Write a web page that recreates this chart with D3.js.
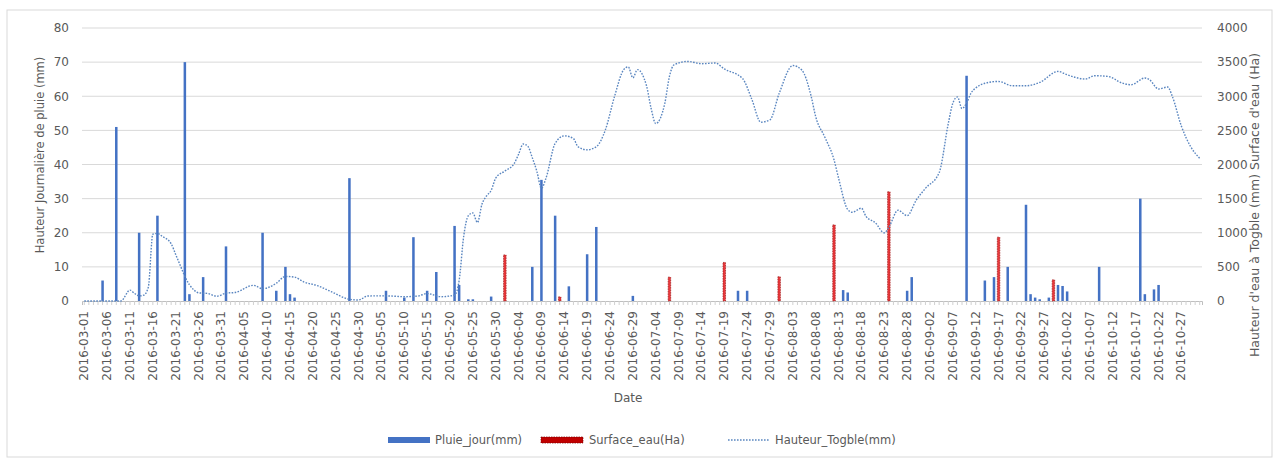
<!DOCTYPE html>
<html>
<head>
<meta charset="utf-8">
<script src="https://cdn.jsdelivr.net/npm/d3@7"></script>
<style>
  body { margin: 0; background: #fff; }
  text { font-family: "DejaVu Sans", sans-serif; fill: #595959; }
</style>
</head>
<body>
<svg id="chart" width="1279" height="459"></svg>
<script>
// daily rain (mm) - only days with rain
const rainDates = ["2016-03-05","2016-03-08","2016-03-13","2016-03-17","2016-03-23","2016-03-24","2016-03-27",
  "2016-04-01","2016-04-09","2016-04-12","2016-04-14","2016-04-15","2016-04-16","2016-04-28",
  "2016-05-06","2016-05-10","2016-05-12","2016-05-15","2016-05-17","2016-05-21","2016-05-22","2016-05-24","2016-05-25","2016-05-29",
  "2016-06-07","2016-06-09","2016-06-12","2016-06-15","2016-06-19","2016-06-21","2016-06-29",
  "2016-07-22","2016-07-24","2016-08-14","2016-08-15","2016-08-28","2016-08-29",
  "2016-09-10","2016-09-14","2016-09-16","2016-09-19","2016-09-23","2016-09-24","2016-09-25","2016-09-26","2016-09-28","2016-09-30",
  "2016-10-01","2016-10-02","2016-10-09","2016-10-18","2016-10-19","2016-10-21","2016-10-22"];
const rainValues = [6,51,20,25,70,2,7,
  16,20,3,10,2,1,36,
  3,1,18.7,3,8.5,22,4.7,0.5,0.5,1.3,
  10,35.5,25,4.3,13.7,21.7,1.5,
  3,3,3.2,2.5,3,7,
  66,6,7,10,28.2,2,1,0.5,1,4.7,
  4.4,2.8,10,30,2,3.4,4.7];

// water surface (Ha)
const surfDates = ["2016-06-01","2016-06-13","2016-07-07","2016-07-19","2016-07-31","2016-08-12","2016-08-24","2016-09-17","2016-09-29"];
const surfValues = [675,60,350,565,355,1115,1600,935,310];

// water height at Togble (mm)
const hauteurDates = ["2016-03-01","2016-03-09","2016-03-11","2016-03-12","2016-03-13","2016-03-14","2016-03-15","2016-03-16","2016-03-17","2016-03-18",
  "2016-03-20","2016-03-21","2016-03-22","2016-03-23","2016-03-25","2016-03-26","2016-03-28","2016-03-30",
  "2016-04-01","2016-04-03","2016-04-07","2016-04-09","2016-04-12","2016-04-14","2016-04-16","2016-04-18","2016-04-21","2016-04-24","2016-04-28","2016-04-30",
  "2016-05-02","2016-05-04","2016-05-07","2016-05-10","2016-05-13","2016-05-15","2016-05-18","2016-05-21","2016-05-22","2016-05-23","2016-05-24",
  "2016-05-25","2016-05-26","2016-05-27","2016-05-28","2016-05-29","2016-05-30",
  "2016-06-01","2016-06-03","2016-06-04","2016-06-05","2016-06-06","2016-06-07","2016-06-08","2016-06-09","2016-06-10","2016-06-12","2016-06-14",
  "2016-06-16","2016-06-17","2016-06-19","2016-06-21","2016-06-23","2016-06-25","2016-06-27","2016-06-28","2016-06-29","2016-06-30",
  "2016-07-02","2016-07-03","2016-07-04","2016-07-06","2016-07-07","2016-07-08","2016-07-11","2016-07-14","2016-07-17","2016-07-19","2016-07-23",
  "2016-07-25","2016-07-27","2016-07-29","2016-07-31",
  "2016-08-03","2016-08-05","2016-08-07","2016-08-08","2016-08-10","2016-08-12","2016-08-13","2016-08-15","2016-08-16","2016-08-18","2016-08-19",
  "2016-08-21","2016-08-23","2016-08-24","2016-08-26","2016-08-28","2016-08-30",
  "2016-09-01","2016-09-04","2016-09-06","2016-09-07","2016-09-08","2016-09-09","2016-09-10","2016-09-11","2016-09-12","2016-09-14","2016-09-17",
  "2016-09-20","2016-09-23","2016-09-26","2016-09-30",
  "2016-10-02","2016-10-06","2016-10-08","2016-10-11","2016-10-14","2016-10-16","2016-10-19","2016-10-20","2016-10-22","2016-10-24","2016-10-25",
  "2016-10-27","2016-10-29","2016-10-31"];
const hauteurValues = [0,0,160,110,75,85,200,980,990,950,
  840,680,520,360,160,120,110,70,
  115,125,230,180,260,360,350,280,225,137,25,15,
  73,75,73,63,73,110,63,88,300,950,1250,
  1290,1150,1420,1540,1620,1800,
  1905,2010,2150,2300,2270,2100,1900,1650,1800,2310,2420,
  2380,2260,2215,2260,2510,3000,3390,3430,3270,3390,
  3150,2820,2600,2900,3290,3460,3510,3477,3487,3400,3260,
  2960,2620,2655,3040,
  3450,3380,3000,2700,2400,2070,1800,1340,1300,1360,1240,
  1150,1000,1080,1330,1250,1480,
  1650,1880,2600,2900,2990,2820,2900,3050,3120,3190,3217,
  3154,3154,3202,3364,
  3315,3252,3301,3290,3194,3169,3267,3242,3106,3135,3000,
  2560,2264,2090];

const leftTicks = [0,10,20,30,40,50,60,70,80];
const rightTicks = [0,500,1000,1500,2000,2500,3000,3500,4000];

const fmt = d3.timeFormat("%Y-%m-%d");
const categories = d3.timeDay.range(new Date(2016,2,1), new Date(2016,10,1)).map(fmt);

const svg = d3.select("#chart");
const plotLeft = 82, plotRight = 1202, plotTop = 28, plotBottom = 301;

//chart border
svg.append("rect")
    .attr("x",7).attr("y",10)
    .attr("width",1265).attr("height",447)
    .attr("fill","#fff")
    .attr("stroke","#d9d9d9");

const x = d3.scaleBand().domain(categories).range([plotLeft, plotRight]).padding(0);
const yL = d3.scaleLinear().domain([0,80]).range([plotBottom, plotTop]);
const yR = d3.scaleLinear().domain([0,4000]).range([plotBottom, plotTop]);

//gridlines
svg.append("g")
    .selectAll("line")
    .data(leftTicks.slice(1))
    .join("line")
    .attr("x1",plotLeft).attr("x2",plotRight)
    .attr("y1",d => yL(d)).attr("y2",d => yL(d))
    .attr("stroke","#d9d9d9");

//left axis
const leftAxis = svg.append("g")
    .attr("transform","translate(" + (plotLeft - 13) + ",0)")
    .call(d3.axisLeft(yL).tickValues(leftTicks).tickSize(0).tickPadding(0));
leftAxis.select(".domain").remove();
leftAxis.selectAll("text").style("font-size","12px").style("fill","#595959").style("font-family","DejaVu Sans");

//right axis
const rightAxis = svg.append("g")
    .attr("transform","translate(" + (plotRight + 15) + ",0)")
    .call(d3.axisRight(yR).tickValues(rightTicks).tickFormat(d3.format("d")).tickSize(0).tickPadding(0));
rightAxis.select(".domain").remove();
rightAxis.selectAll("text").style("font-size","12px").style("fill","#595959").style("font-family","DejaVu Sans");

//bottom axis
const bottomAxis = svg.append("g")
    .attr("transform","translate(0," + plotBottom + ")")
    .call(d3.axisBottom(x).tickSize(4).tickFormat(""));
bottomAxis.select(".domain").attr("stroke","#bfbfbf");
bottomAxis.selectAll(".tick line").attr("stroke","#d0d0d0");

svg.append("g")
    .selectAll("text")
    .data(categories.filter((d,i) => i % 5 == 0))
    .join("text")
    .attr("transform", d => "translate(" + (x(d) + x.bandwidth()/2 + 4) + ",311)rotate(-90)")
    .attr("text-anchor","end")
    .style("font-size","12px")
    .text(d => d);

//rain bars
const barW = x.bandwidth()*0.55;
svg.append("g")
    .selectAll("rect")
    .data(rainDates.map((d,i) => ({date:d, v:rainValues[i]})))
    .join("rect")
    .attr("x", d => x(d.date) + (x.bandwidth()-barW)/2)
    .attr("y", d => yL(d.v))
    .attr("width", barW)
    .attr("height", d => plotBottom - yL(d.v))
    .attr("fill","#4472c4");

//surface bars
svg.append("g")
    .selectAll("rect")
    .data(surfDates.map((d,i) => ({date:d, v:surfValues[i]})))
    .join("rect")
    .attr("x", d => x(d.date) + (x.bandwidth()-barW)/2)
    .attr("y", d => yR(d.v))
    .attr("width", barW)
    .attr("height", d => plotBottom - yR(d.v))
    .attr("fill","#e8383b")
    .attr("stroke","#9b1b1b")
    .attr("stroke-width",0.7)
    .attr("stroke-dasharray","1.5,1");

//height line
const line = d3.line()
    .x(d => x(d.date) + x.bandwidth()/2)
    .y(d => yR(d.v))
    .curve(d3.curveMonotoneX);
svg.append("path")
    .datum(hauteurDates.map((d,i) => ({date:d, v:hauteurValues[i]})))
    .attr("d", line)
    .attr("fill","none")
    .attr("stroke","#5a86c0")
    .attr("stroke-width",1.4)
    .attr("stroke-dasharray","1.6,1.4");

//axis titles
svg.append("text")
    .attr("transform","translate(44,155)rotate(-90)")
    .attr("text-anchor","middle")
    .style("font-size","11.5px")
    .text("Hauteur Journalière de pluie (mm)");
svg.append("text")
    .attr("transform","translate(1259,205)rotate(-90)")
    .attr("text-anchor","middle")
    .style("font-size","12.5px")
    .text("Hauteur d'eau à Togble (mm) Surface d'eau (Ha)");
svg.append("text")
    .attr("x",628).attr("y",402)
    .attr("text-anchor","middle")
    .style("font-size","12px")
    .text("Date");

//legend
const legend = svg.append("g").attr("transform","translate(0,440)");
legend.append("rect").attr("x",388).attr("y",-3).attr("width",42).attr("height",6).attr("fill","#4472c4");
legend.append("text").attr("x",435).attr("y",4).style("font-size","11.5px").text("Pluie_jour(mm)");
legend.append("rect").attr("x",541).attr("y",-3).attr("width",42).attr("height",6)
    .attr("fill","#c00000").attr("stroke","#7a0000").attr("stroke-width",0.7).attr("stroke-dasharray","1.5,1");
legend.append("text").attr("x",589).attr("y",4).style("font-size","11.5px").text("Surface_eau(Ha)");
legend.append("line").attr("x1",728).attr("x2",770).attr("y1",0).attr("y2",0)
    .attr("stroke","#5a86c0").attr("stroke-width",1.4).attr("stroke-dasharray","1.6,1.4");
legend.append("text").attr("x",775).attr("y",4).style("font-size","11.5px").text("Hauteur_Togble(mm)");
</script>
</body>
</html>
